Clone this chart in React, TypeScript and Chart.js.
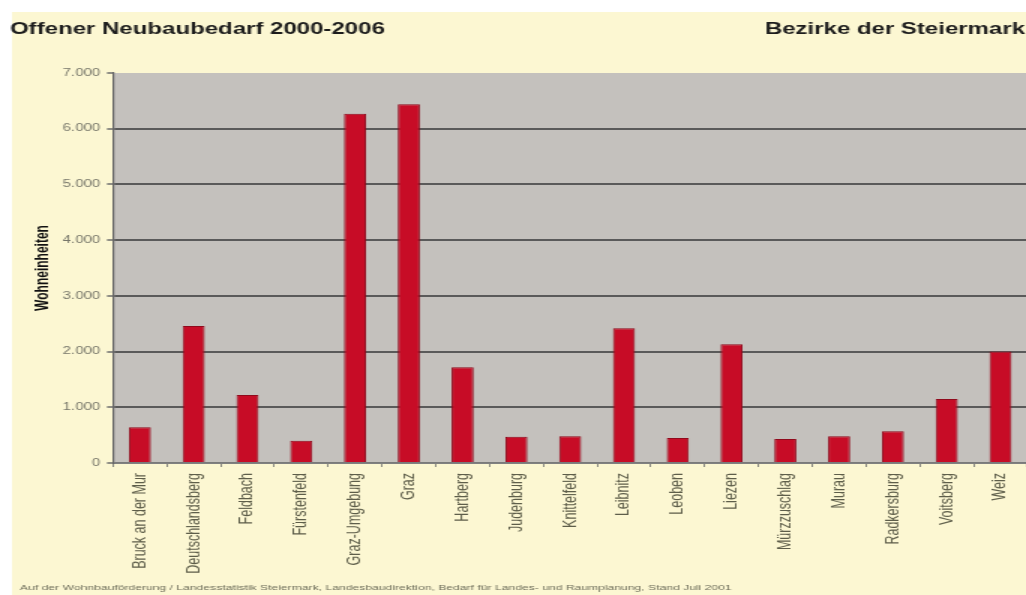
import React, { useEffect, useRef } from "react";
import { Chart, registerables } from "chart.js";

Chart.register(...registerables);

// ---- data ----
const districts: string[] = [
  "Bruck an der Mur",
  "Deutschlandsberg",
  "Feldbach",
  "Fürstenfeld",
  "Graz-Umgebung",
  "Graz",
  "Hartberg",
  "Judenburg",
  "Knittelfeld",
  "Leibnitz",
  "Leoben",
  "Liezen",
  "Mürzzuschlag",
  "Murau",
  "Radkersburg",
  "Voitsberg",
  "Weiz",
];
const openDemand: number[] = [
  640, 2460, 1220, 400, 6270, 6440, 1720, 470, 480, 2420, 450, 2130, 430, 480,
  570, 1150, 2000,
];
const yMin = 0;
const yMax = 7000;
const yStep = 1000;

const titleLeft = "Offener Neubaubedarf 2000-2006";
const titleRight = "Bezirke der Steiermark";
const yAxisTitle = "Wohneinheiten";
const footnote =
  "Auf der Wohnbauförderung / Landesstatistik Steiermark, Landesbaudirektion, Bedarf für Landes- und Raumplanung, Stand Juli 2001";

// ---- look ----
const S = 1.5; // horizontal stretch of the original picture
const FONT = "'Liberation Sans', Arial, sans-serif";
const pageYellow = "#fcf7d2";
const plotGray = "#c4c1bd";
const barFill = "#c70c26";
const barEdge = "#900a1c";

const fmt = (v: number) =>
  String(Math.round(v)).replace(/\B(?=(\d{3})+(?!\d))/g, ".");

const decorPlugin = {
  id: "decor",
  beforeDraw(chart: any) {
    const { ctx, width, height, chartArea } = chart;
    ctx.save();
    ctx.fillStyle = "#ffffff";
    ctx.fillRect(0, 0, width, height);
    ctx.fillStyle = pageYellow;
    ctx.fillRect(12 / S, 12, width, height);
    ctx.fillStyle = plotGray;
    ctx.fillRect(
      chartArea.left,
      chartArea.top,
      chartArea.right - chartArea.left,
      chartArea.bottom - chartArea.top
    );
    ctx.restore();
  },
  afterDraw(chart: any) {
    const { ctx } = chart;
    ctx.save();
    ctx.fillStyle = "#1c1c1c";
    ctx.font = `bold 16px ${FONT}`;
    ctx.textBaseline = "middle";
    ctx.textAlign = "left";
    ctx.fillText(titleLeft, 10 / S, 30);
    ctx.textAlign = "right";
    ctx.fillText(titleRight, 1025 / S, 30);
    ctx.fillStyle = "#6f6f5c";
    ctx.font = `8.1px ${FONT}`;
    ctx.textAlign = "left";
    ctx.fillText(footnote, 20 / S, 588);
    ctx.restore();
  },
};

export default function App() {
  const canvasRef = useRef<HTMLCanvasElement>(null);

  useEffect(() => {
    if (!canvasRef.current) return;
    const chart = new Chart(canvasRef.current, {
      type: "bar",
      data: {
        labels: districts,
        datasets: [
          {
            data: openDemand,
            backgroundColor: barFill,
            borderColor: barEdge,
            borderWidth: 1,
            barPercentage: 0.41,
            categoryPercentage: 1,
          },
        ],
      },
      options: {
        responsive: true,
        maintainAspectRatio: false,
        animation: false,
        devicePixelRatio: 1,
        layout: { padding: { top: 73, left: 0, right: 0, bottom: 0 } },
        plugins: {
          legend: { display: false },
          tooltip: { enabled: false },
          title: { display: false },
        },
        scales: {
          x: {
            afterFit: (scale: any) => {
              scale.height = 132;
            },
            grid: {
              offset: true,
              drawOnChartArea: false,
              drawTicks: true,
              tickLength: 4,
              tickColor: "#8a8a80",
              tickWidth: 1,
            },
            border: { display: true, color: "#808080", width: 1 },
            ticks: {
              autoSkip: false,
              maxRotation: 90,
              minRotation: 90,
              padding: 6,
              color: "#5e5e4a",
              font: { family: FONT, size: 12.5 },
            },
          },
          y: {
            min: yMin,
            max: yMax,
            afterFit: (scale: any) => {
              scale.width = 113 / S;
            },
            grid: {
              color: (c: any) =>
                c.tick && c.tick.value === yMax
                  ? "rgba(0,0,0,0)"
                  : c.tick && c.tick.value === yMin
                  ? "#7a7a7a"
                  : "#5a5a5a",
              lineWidth: 2,
              drawTicks: true,
              tickLength: 4,
              tickColor: "#6a6a6a",
              tickWidth: 1.5,
            },
            border: { display: true, color: "#666666", width: 1.2 },
            ticks: {
              stepSize: yStep,
              padding: 4.5,
              color: "#77776a",
              font: { family: FONT, size: 10 },
              callback: (v: any) => fmt(Number(v)),
            },
            title: {
              display: true,
              text: yAxisTitle,
              color: "#111111",
              font: { family: FONT, size: 12, weight: "bold" },
              padding: { top: 21, bottom: 0 },
            },
          },
        },
      },
      plugins: [decorPlugin],
    } as any);
    return () => chart.destroy();
  }, []);

  return (
    <div
      style={{
        position: "absolute",
        left: 0,
        top: 0,
        width: 1026,
        height: 595,
        overflow: "hidden",
        background: pageYellow,
      }}
    >
      <div
        style={{
          width: 688,
          height: 595,
          transform: `scaleX(${S})`,
          transformOrigin: "0 0",
        }}
      >
        <canvas ref={canvasRef} />
      </div>
    </div>
  );
}
